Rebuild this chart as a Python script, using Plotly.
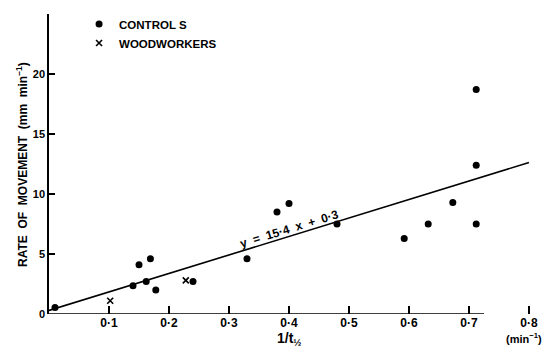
import plotly.graph_objects as go

# Controls (dots)
ctrl_x = [0.01, 0.14, 0.15, 0.162, 0.169, 0.178, 0.24, 0.33, 0.38, 0.40, 0.48, 0.592, 0.632, 0.673, 0.712, 0.712, 0.712]
ctrl_y = [0.55, 2.35, 4.1, 2.7, 4.6, 2.0, 2.7, 4.6, 8.5, 9.2, 7.5, 6.3, 7.5, 9.3, 7.5, 18.7, 12.4]
# Woodworkers (x)
wood_x = [0.102, 0.228]
wood_y = [1.1, 2.8]

# Regression y = 15.4 x + 0.3
slope, intercept = 15.4, 0.3
fit_x = [0.0, 0.80]
fit_y = [slope * v + intercept for v in fit_x]

x_ticks = [0.1, 0.2, 0.3, 0.4, 0.5, 0.6, 0.7, 0.8]
x_tick_text = ["0·1", "0·2", "0·3", "0·4", "0·5", "0·6", "0·7", "0·8"]
y_ticks = [0, 5, 10, 15, 20, 25]
y_tick_text = ["0", "5", "10", "15", "20", "25"]

FONT = "Liberation Sans"

fig = go.Figure()
fig.add_trace(go.Scatter(x=fit_x, y=fit_y, mode="lines", line=dict(color="black", width=1.6),
                         showlegend=False, hoverinfo="skip"))
fig.add_trace(go.Scatter(x=ctrl_x, y=ctrl_y, mode="markers", name="<b>CONTROL S</b>",
                         marker=dict(symbol="circle", size=7, color="black")))
fig.add_trace(go.Scatter(x=wood_x, y=wood_y, mode="markers", name="<b>WOODWORKERS</b>",
                         marker=dict(symbol="x-thin-open", size=6, color="black",
                                     line=dict(width=1.6, color="black"))))

# x axis line stops short of 0.8
fig.add_shape(type="line", xref="x", yref="y", x0=0, x1=0.725, y0=0, y1=0,
              line=dict(color="black", width=1.5))

fig.add_annotation(x=0.40, y=7.1, xref="x", yref="y", xanchor="center", yanchor="middle",
                   text="<b>y  =  15·4  x  +  0·3</b>",
                   showarrow=False, textangle=-17, font=dict(family=FONT, size=12, color="black"))
fig.add_annotation(x=0.40, y=-0.083, xref="x", yref="paper", xanchor="center", yanchor="middle",
                   text="<b>1/t<sub>½</sub></b>",
                   showarrow=False, font=dict(family=FONT, size=14, color="black"))
fig.add_annotation(x=0.792, y=-0.08, xref="x", yref="paper", xanchor="center", yanchor="middle",
                   text="<b>(min<sup>−1</sup>)</b>",
                   showarrow=False, font=dict(family=FONT, size=11, color="black"))
fig.add_annotation(x=-0.054, y=0.5, xref="paper", yref="paper", xanchor="center", yanchor="middle",
                   text="<b>RATE  OF  MOVEMENT  (mm  min<sup>−1</sup>)</b>",
                   showarrow=False, textangle=-90, font=dict(family=FONT, size=12, color="black"))

# page body has an 8px margin; size the figure so the plot area lands where the reference has it
fig.update_layout(
    width=542, height=347,
    margin=dict(l=41, r=0, t=6, b=41),
    paper_bgcolor="white", plot_bgcolor="white",
    font=dict(family=FONT, size=11, color="black"),
    legend=dict(x=0.06, y=1.015, xanchor="left", yanchor="top", bgcolor="rgba(0,0,0,0)",
                font=dict(family=FONT, size=11.5, color="black"), itemwidth=30,
                tracegroupgap=0),
    xaxis=dict(range=[0, 0.835], showgrid=False, zeroline=False, showline=False, automargin=False,
               tickvals=x_ticks, ticktext=["<b>%s</b>" % t for t in x_tick_text],
               ticks="inside", ticklen=8, tickwidth=1.5, tickcolor="black",
               tickfont=dict(family=FONT, size=12, color="black")),
    yaxis=dict(range=[0, 25], showgrid=False, zeroline=False, showline=True, automargin=False,
               linecolor="black", linewidth=1.5,
               tickvals=y_ticks, ticktext=["<b>%s</b>" % t for t in y_tick_text],
               ticks="inside", ticklen=6, tickwidth=1.5, tickcolor="black",
               tickfont=dict(family=FONT, size=11, color="black")),
)

fig.write_html("out.html")
